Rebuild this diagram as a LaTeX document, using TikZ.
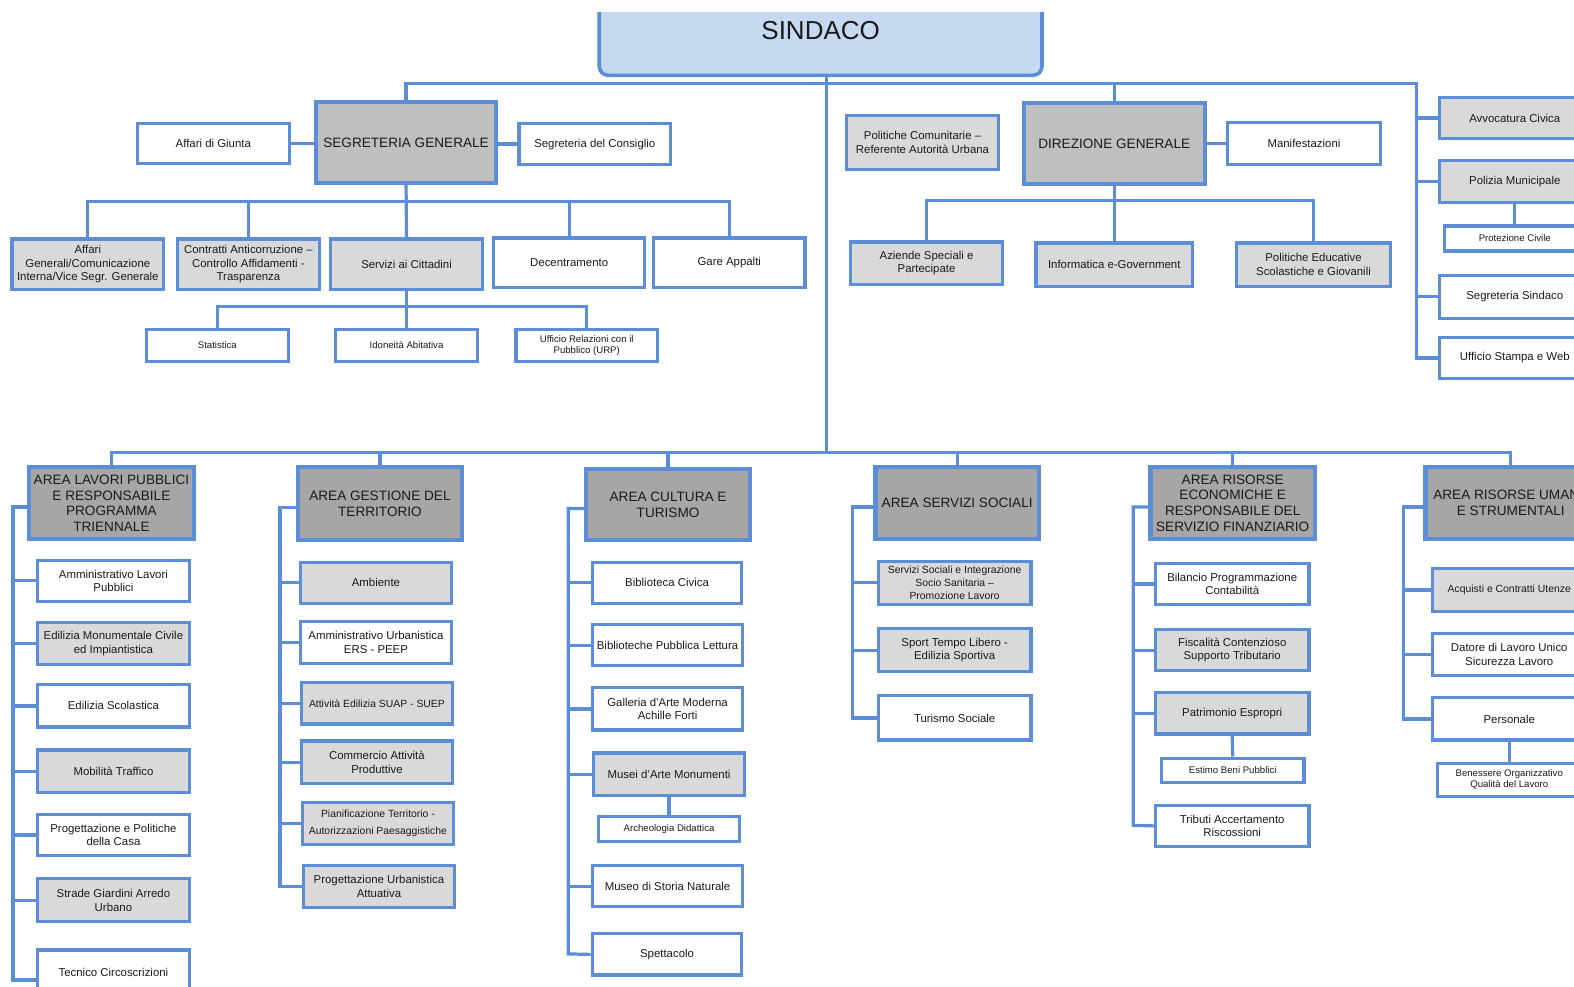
\documentclass[tikz,border=0pt]{standalone}
\usepackage{fontspec}
\setmainfont{Liberation Sans}
\definecolor{lb}{HTML}{5B8ED6}
\definecolor{lg}{HTML}{D9D9D9}
\definecolor{mg}{HTML}{BFBFBF}
\definecolor{ag}{HTML}{A6A6A6}
\definecolor{sky}{HTML}{C6D9F1}
\definecolor{tc}{HTML}{1A1A1A}
\newcommand\fbig{\fontsize{13pt}{15pt}\selectfont}
\newcommand\fa{\fontsize{6.8pt}{7.8pt}\selectfont}
\newcommand\fb{\fontsize{5.7pt}{6.8pt}\selectfont}
\newcommand\fc{\fontsize{5.2pt}{6.4pt}\selectfont}
\newcommand\fd{\fontsize{4.8pt}{5.5pt}\selectfont}
\newcommand\obox[7]{\node[#2,minimum width={(#5-#3)*0.50191pt},minimum height={(#6-#4)*0.50204pt}] (#1) at ({(#3+#5)/2},{(#4+#6)/2}) {#7};}
\tikzset{
  wbox/.style={draw=lb, line width=1.6pt, fill=white, inner sep=1pt, align=center, text=tc, font=\fb},
  gbox/.style={wbox, fill=lg},
  mbox/.style={wbox, fill=mg, line width=2pt, font=\fa},
  abox/.style={wbox, fill=ag, line width=2.2pt, font=\fa},
  conn/.style={draw=lb, line width=1.6pt}
}
\begin{document}
\begin{tikzpicture}[x=0.50191pt,y=-0.50204pt]
\useasboundingbox (0,0) rectangle (1568,982);
\clip (0,0) rectangle (1568,982);
\begin{scope}
\clip (0,12) rectangle (1568,982);
\node[draw=lb, line width=1.8pt, fill=sky, rounded corners=4.5pt, minimum width={441*0.50191pt}, minimum height={89*0.50204pt}, text=tc, font=\fbig] (sindaco) at (817.5,30.5) {SINDACO};
\end{scope}
% top level
\obox{sg}{mbox}{315}{102}{494}{182}{SEGRETERIA GENERALE}
\obox{giunta}{wbox}{137}{123}{288}{163}{Affari di Giunta}
\obox{segcons}{wbox}{517}{123}{668}{164}{Segreteria del Consiglio}
\obox{affgen}{gbox}{12}{238}{163}{288}{Affari\\Generali/Comunicazione\\Interna/Vice Segr. Generale}
\obox{contratti}{gbox}{177}{238}{318}{288}{Contratti Anticorruzione –\\Controllo Affidamenti -\\Trasparenza}
\obox{servizi}{gbox}{329}{238}{481}{288}{Servizi ai Cittadini}
\obox{decentr}{wbox}{492}{237}{642}{286}{Decentramento}
\obox{gare}{wbox}{651}{237}{802}{286}{Gare Appalti}
\obox{stat}{wbox,font=\fd}{146}{328}{287}{360}{Statistica}
\obox{idon}{wbox,font=\fd}{334}{328}{476}{360}{Idoneità Abitativa}
\obox{urp}{wbox,font=\fd}{514}{328}{655}{360}{Ufficio Relazioni con il\\Pubblico (URP)}
\obox{polcom}{gbox}{843}{115}{995}{169}{Politiche Comunitarie –\\Referente Autorità Urbana}
\obox{dg}{mbox}{1020}{103}{1200}{183}{DIREZIONE GENERALE}
\obox{manif}{wbox}{1223}{122}{1375}{164}{Manifestazioni}
\obox{aziende}{gbox}{847}{241}{999}{283}{Aziende Speciali e\\Partecipate}
\obox{inform}{gbox}{1032}{242}{1188}{285}{Informatica e-Government}
\obox{educ}{gbox}{1232}{242}{1385}{285}{Politiche Educative\\Scolastiche e Giovanili}
\obox{avv}{gbox}{1434}{97}{1584}{138}{Avvocatura Civica}
\obox{polizia}{gbox}{1434}{160}{1584}{202}{Polizia Municipale}
\obox{protez}{wbox,font=\fd}{1439}{225}{1579}{250}{Protezione Civile}
\obox{segsind}{wbox}{1434}{274}{1584}{317}{Segreteria Sindaco}
\obox{stampa}{wbox}{1434}{336}{1584}{377}{Ufficio Stampa e Web}
% areas
\obox{alp}{abox}{29}{465}{193}{537}{AREA LAVORI PUBBLICI\\E RESPONSABILE\\PROGRAMMA\\TRIENNALE}
\obox{agt}{abox}{297}{465}{460}{538}{AREA GESTIONE DEL\\TERRITORIO}
\obox{act}{abox}{584}{467}{747}{538}{AREA CULTURA E\\TURISMO}
\obox{ass}{abox}{872}{465}{1035}{537}{AREA SERVIZI SOCIALI}
\obox{are}{abox}{1146}{465}{1310}{537}{AREA RISORSE\\ECONOMICHE E\\RESPONSABILE DEL\\SERVIZIO FINANZIARIO}
\obox{aru}{abox}{1420}{465}{1590}{537}{AREA RISORSE UMANE\\E STRUMENTALI}
% area lavori pubblici
\obox{amlp}{wbox}{37}{558}{189}{599}{Amministrativo Lavori\\Pubblici}
\obox{edmon}{gbox}{37}{620}{189}{662}{Edilizia Monumentale Civile\\ed Impiantistica}
\obox{edscol}{wbox}{37}{682}{189}{724}{Edilizia Scolastica}
\obox{mobil}{gbox}{37}{747}{189}{789}{Mobilità Traffico}
\obox{progcasa}{wbox}{37}{811}{189}{852}{Progettazione e Politiche\\della Casa}
\obox{strade}{gbox}{37}{875}{189}{918}{Strade Giardini Arredo\\Urbano}
\obox{tecnico}{wbox}{37}{946}{189}{990}{Tecnico Circoscrizioni}
% area gestione territorio
\obox{ambiente}{gbox}{299}{560}{450}{601}{Ambiente}
\obox{amurb}{wbox}{299}{619}{450}{661}{Amministrativo Urbanistica\\ERS - PEEP}
\obox{atted}{gbox,font=\fc}{300}{680}{451}{721}{Attività Edilizia SUAP - SUEP}
\obox{commercio}{gbox}{300}{738}{451}{780}{Commercio Attività\\Produttive}
\obox{pianif}{gbox,font=\fontsize{5.2pt}{8.6pt}\selectfont}{301}{799}{452}{841}{Pianificazione Territorio -\\Autorizzazioni Paesaggistiche}
\obox{progurb}{gbox}{302}{862}{453}{904}{Progettazione Urbanistica\\Attuativa}
% area cultura
\obox{bibciv}{wbox}{590}{560}{739}{601}{Biblioteca Civica}
\obox{bibpl}{wbox}{590}{622}{740}{663}{Biblioteche Pubblica Lettura}
\obox{galleria}{wbox}{590}{685}{740}{727}{Galleria d'Arte Moderna\\Achille Forti}
\obox{musei}{gbox}{591}{750}{742}{792}{Musei d'Arte Monumenti}
\obox{archeo}{wbox,font=\fd}{596}{813}{737}{838}{Archeologia Didattica}
\obox{storia}{wbox}{590}{862}{740}{903}{Museo di Storia Naturale}
\obox{spett}{wbox}{590}{930}{739}{971}{Spettacolo}
% area servizi sociali
\obox{sersoc}{gbox,font=\fc}{875}{559}{1027}{602}{Servizi Sociali e Integrazione\\Socio Sanitaria –\\Promozione Lavoro}
\obox{sport}{gbox}{875}{626}{1027}{669}{Sport Tempo Libero -\\Edilizia Sportiva}
\obox{turismo}{wbox}{875}{693}{1027}{737}{Turismo Sociale}
% area risorse economiche
\obox{bilancio}{wbox}{1151}{561}{1304}{602}{Bilancio Programmazione\\Contabilità}
\obox{fiscal}{gbox}{1151}{627}{1304}{668}{Fiscalità Contenzioso\\Supporto Tributario}
\obox{patrim}{gbox}{1151}{690}{1304}{731}{Patrimonio Espropri}
\obox{estimo}{wbox,font=\fd}{1157}{755}{1299}{779}{Estimo Beni Pubblici}
\obox{tributi}{wbox}{1151}{802}{1304}{843}{Tributi Accertamento\\Riscossioni}
% area risorse umane
\obox{acquisti}{gbox,font=\fc}{1427}{566}{1580}{609}{Acquisti e Contratti Utenze}
\obox{datore}{wbox}{1427}{631}{1580}{673}{Datore di Lavoro Unico\\Sicurezza Lavoro}
\obox{personale}{wbox}{1427}{695}{1580}{737}{Personale}
\obox{benessere}{wbox,font=\fd}{1432}{760}{1575}{793}{Benessere Organizzativo\\Qualità del Lavoro}
% coordinates
\coordinate (mb) at (823,451);
\coordinate (tr) at (1411,83);
\coordinate (sgb) at (405,201);
\coordinate (svb) at (405,305);
\coordinate (dgb) at (1110,200);
\coordinate (alpv) at (13,976);
\coordinate (agtv) at (279,883);
\coordinate (actv) at (566,950);
\coordinate (assv) at (849,715);
\coordinate (arev) at (1129,822);
\coordinate (aruv) at (1398,716);
% connectors
\draw[conn] (sindaco.south -| mb) -- (mb);
\draw[conn] (sg.north) |- (tr) |- (stampa.west);
\draw[conn] (dg.north) -- (dg.north |- tr);
\foreach \c in {avv,polizia,segsind} \draw[conn] (tr |- \c.west) -- (\c.west);
\draw[conn] (polizia.south) -- (protez.north);
\draw[conn] (giunta.east) -- (giunta.east -| sg.west);
\draw[conn] (sg.east |- segcons.west) -- (segcons.west);
\draw[conn] (sg.south) -- (servizi.north);
\foreach \c in {affgen,contratti,decentr,gare} \draw[conn] (\c.north) |- (sgb);
\draw[conn] (servizi.south) -- (idon.north);
\foreach \c in {stat,urp} \draw[conn] (\c.north) |- (svb);
\draw[conn] (dg.east |- manif.west) -- (manif.west);
\draw[conn] (dg.south) -- (inform.north);
\foreach \c in {aziende,educ} \draw[conn] (\c.north) |- (dgb);
\foreach \c in {alp,agt,act,ass,are,aru} \draw[conn] (\c.north) |- (mb);
% area branches
\draw[conn] ([yshift=-2pt]alp.west) -| (alpv) -- (alpv -| tecnico.west);
\foreach \c in {amlp,edmon,edscol,mobil,progcasa,strade} \draw[conn] (alpv |- \c.west) -- (\c.west);
\draw[conn] ([yshift=-2pt]agt.west) -| (agtv) -- (progurb.west);
\foreach \c in {ambiente,amurb,atted,commercio,pianif} \draw[conn] (agtv |- \c.west) -- (\c.west);
\draw[conn] ([yshift=-2pt]act.west) -| (actv) -- (spett.west);
\foreach \c in {bibciv,bibpl,galleria,musei,storia} \draw[conn] (actv |- \c.west) -- (\c.west);
\draw[conn] (musei.south) -- (archeo.north);
\draw[conn] ([yshift=-2pt]ass.west) -| (assv) -- (turismo.west);
\foreach \c in {sersoc,sport} \draw[conn] (assv |- \c.west) -- (\c.west);
\draw[conn] ([yshift=-2pt]are.west) -| (arev) -- (tributi.west);
\foreach \c in {bilancio,fiscal,patrim} \draw[conn] (arev |- \c.west) -- (\c.west);
\draw[conn] (patrim.south) -- (estimo.north);
\draw[conn] ([yshift=-2pt]aru.west) -| (aruv) -- (personale.west);
\foreach \c in {acquisti,datore} \draw[conn] (aruv |- \c.west) -- (\c.west);
\draw[conn] (personale.south) -- (benessere.north);
\end{tikzpicture}
\end{document}
